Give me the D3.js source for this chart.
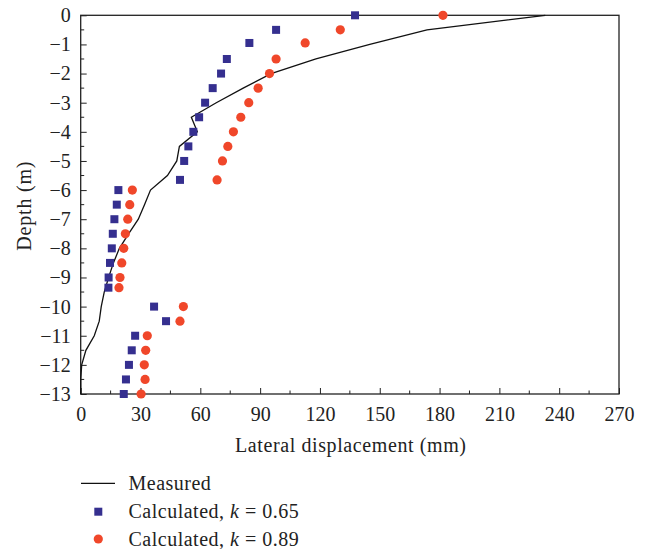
<html lang="en">
<head>
  <title>Lateral displacement</title>
  <meta charset="utf-8">
</head>
<script src="https://d3js.org/d3.v7.min.js"></script>
<style>
  body { margin: 0; background: #fff; }
  text { font-family: 'Liberation Serif', 'DejaVu Serif', serif; fill: #222; }
</style>
<body>
  <svg id = 'canvas'></svg>
</body>
<script>

// ************************************************************************************** //
// Data

var measured_depth = [0, -0.5, -1, -1.5, -2, -2.5, -3, -3.5, -4, -4.5, -5, -5.5, -6, -6.5, -7, -7.5, -8, -8.5, -9, -9.5, -10, -10.5, -11, -11.5, -12, -12.5, -13];
var measured_disp  = [233, 173.7, 145, 118, 95.5, 81.5, 68, 55.5, 58.5, 49.5, 48.2, 43.5, 35, 32, 28.9, 24, 19.4, 16.4, 14, 11.8, 10.3, 9.3, 6.8, 2.6, 0.5, 0, 0];

var calc_depth = [0, -0.5, -0.95, -1.5, -2, -2.5, -3, -3.5, -4, -4.5, -5, -5.65, -6, -6.5, -7, -7.5, -8, -8.5, -9, -9.35, -10, -10.5, -11, -11.5, -12, -12.5, -13];
var calc_065 = [137.6, 98, 84.6, 73.3, 70.4, 66.2, 62.4, 59.4, 56.5, 54, 51.9, 49.8, 18.9, 18.1, 16.9, 16.1, 15.6, 14.7, 14, 13.9, 36.8, 42.8, 27.3, 25.6, 24.2, 22.7, 21.6];
var calc_089 = [181.7, 130.2, 112.6, 98, 94.7, 89, 84.3, 80.3, 76.6, 73.8, 71.1, 68.4, 25.9, 24.6, 23.6, 22.4, 21.6, 20.6, 19.7, 19.2, 51.5, 49.8, 33.4, 32.6, 31.9, 32.3, 30.3];

var x_ticks = d3.range(0, 271, 30);
var y_ticks = d3.range(0, -14, -1);
var legend_labels = ['Measured', 'Calculated, ', 'Calculated, '];
var legend_k = [null, '0.65', '0.89'];

// ************************************************************************************** //
// Variables

var canvas_width = 645, canvas_height = 549;
var svg = d3.select('#canvas').attr('width', canvas_width).attr('height', canvas_height);

var x = d3.scaleLinear().domain([0, 270]).range([80.7, 619]);
var y = d3.scaleLinear().domain([0, -13]).range([15.3, 394]);

var blue = '#352f8f', red = '#f0472a';
var fmt = d => d < 0 ? '\u2212' + Math.abs(d) : '' + d;

// ************************************************************************************** //
// Axes

function drawAxes(){
  var g = svg.append('g');

  // minor ticks
  g.selectAll('.xminor').data(d3.range(15, 270, 30)).enter().append('line')
    .attr('x1', d => x(d)).attr('x2', d => x(d)).attr('y1', y(-13)).attr('y2', y(-13) - 3.5)
    .attr('stroke', '#222').attr('stroke-width', 1);
  g.selectAll('.yminor').data(d3.range(-0.5, -13, -1)).enter().append('line')
    .attr('y1', d => y(d)).attr('y2', d => y(d)).attr('x1', x(0)).attr('x2', x(0) + 3.5)
    .attr('stroke', '#222').attr('stroke-width', 1);

  var xAxis = d3.axisBottom(x).tickValues(x_ticks).tickSizeInner(-6).tickSizeOuter(0).tickPadding(13);
  var yAxis = d3.axisLeft(y).tickValues(y_ticks).tickFormat(fmt).tickSizeInner(-6).tickSizeOuter(0).tickPadding(10);

  var gx = g.append('g').attr('transform', 'translate(0,' + y(-13) + ')').call(xAxis);
  var gy = g.append('g').attr('transform', 'translate(' + x(0) + ',0)').call(yAxis);
  [gx, gy].forEach(a => {
    a.select('.domain').remove();
    a.selectAll('line').attr('stroke', '#222');
    a.selectAll('text').style('font-size', '20px').style('font-family', null).attr('fill', '#222');
  });

  // frame
  g.append('rect').attr('x', x(0)).attr('y', y(0)).attr('width', x(270) - x(0)).attr('height', y(-13) - y(0))
    .attr('fill', 'none').attr('stroke', '#222').attr('stroke-width', 1.3);

  svg.append('text').attr('x', (x(0) + x(270)) / 2 + 1).attr('y', 451.5).attr('text-anchor', 'middle')
    .style('font-size', '20px').style('letter-spacing', '0.6px').text('Lateral displacement (mm)');
  svg.append('text').attr('transform', 'translate(31,' + ((y(0) + y(-13)) / 2 + 1) + ') rotate(-90)')
    .attr('text-anchor', 'middle').style('font-size', '20px').style('letter-spacing', '0.8px').text('Depth (m)');
}

// ************************************************************************************** //
// Series

function drawSeries(){
  var line = d3.line().x((d, i) => x(measured_disp[i])).y(d => y(d));
  svg.append('path').datum(measured_depth).attr('d', line)
    .attr('fill', 'none').attr('stroke', '#111').attr('stroke-width', 1.3);

  svg.append('g').selectAll('rect').data(calc_depth).enter().append('rect')
    .attr('x', (d, i) => x(calc_065[i]) - 4).attr('y', d => y(d) - 4)
    .attr('width', 8).attr('height', 8).attr('fill', blue);

  svg.append('g').selectAll('circle').data(calc_depth).enter().append('circle')
    .attr('cx', (d, i) => x(calc_089[i])).attr('cy', d => y(d)).attr('r', 4.6).attr('fill', red);
}

// ************************************************************************************** //
// Legend

function drawLegend(){
  var marks = [483.3, 511.7, 539];
  var baselines = [489.5, 518.3, 545.7];
  var lg = svg.append('g');
  lg.append('line').attr('x1', 81).attr('x2', 115).attr('y1', marks[0]).attr('y2', marks[0])
    .attr('stroke', '#111').attr('stroke-width', 1.3);
  lg.append('rect').attr('x', 98.3 - 4).attr('y', marks[1] - 4).attr('width', 8).attr('height', 8).attr('fill', blue);
  lg.append('circle').attr('cx', 98.3).attr('cy', marks[2]).attr('r', 4.6).attr('fill', red);

  legend_labels.forEach((lab, i) => {
    var t = lg.append('text').attr('x', 128.5).attr('y', baselines[i])
      .style('font-size', '20px').style('letter-spacing', '0.5px');
    t.append('tspan').text(lab);
    if(legend_k[i]){
      t.append('tspan').style('font-style', 'italic').text('k');
      t.append('tspan').text(' = ' + legend_k[i]);
    }
  });
}

drawAxes(); drawSeries(); drawLegend();

</script>
</html>
